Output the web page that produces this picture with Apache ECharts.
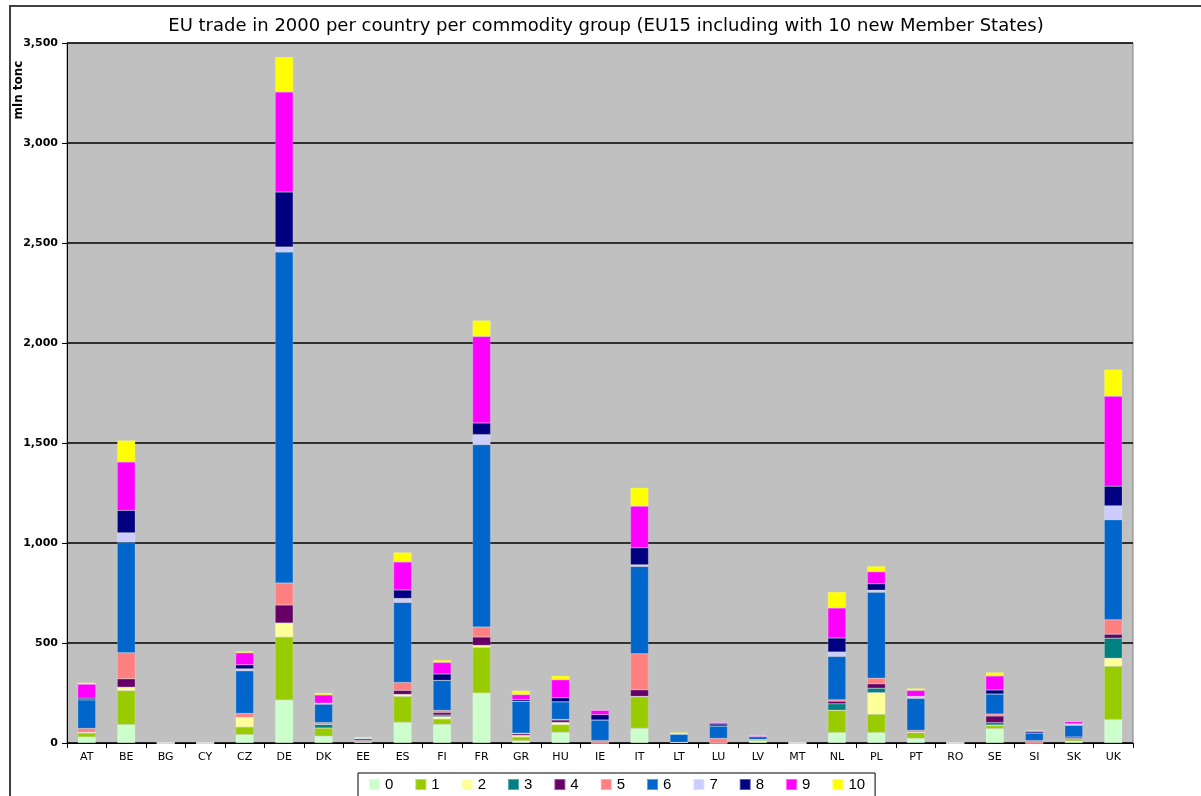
<!DOCTYPE html>
<html>
<head>
<meta charset="utf-8">
<title>EU trade in 2000</title>
<script src="https://cdn.jsdelivr.net/npm/echarts@6/dist/echarts.min.js"></script>
<style>
  html, body { margin: 0; padding: 0; background: #ffffff; }
  #chart { width: 1201px; height: 796px; }
</style>
</head>
<body>
<div id="chart"></div>
<script>
// Countries along the x axis
const countries = ['AT','BE','BG','CY','CZ','DE','DK','EE','ES','FI','FR','GR','HU','IE','IT','LT','LU','LV','MT','NL','PL','PT','RO','SE','SI','SK','UK'];

// Trade volume (mln tonnes) per commodity group, one value per country
//                 AT   BE  BG CY  CZ    DE  DK EE   ES   FI   FR   GR  HU   IE   IT LT  LU  LV MT   NL   PL   PT RO  SE  SI  SK   UK
const group0  = [ 30,  92, 0, 0, 42,  215, 34, 3, 103,  93, 250,  12, 53,   0,  73, 3,  0, 12, 0,  52,  52,  23, 0, 72,  0, 10, 117];
const group1  = [ 20, 170, 0, 0, 38,  315, 41, 2, 130,  27, 228,  18, 38,   0, 158, 0,  0,  5, 0, 112,  92,  30, 0, 15,  0, 12, 267];
const group2  = [  3,  17, 0, 0, 48,   70,  0, 0,  10,  12,  10,   8, 12,   0,   2, 0,  0,  0, 0,   0, 108,   0, 0,  3,  0,  0,  40];
const group3  = [  0,   0, 0, 0,  0,    0, 18, 0,   0,   8,   0,   0,  0,   0,   0, 0,  0,  0, 0,  32,  22,   0, 0, 12,  0,  0, 100];
const group4  = [  0,  42, 0, 0,  0,   90,  0, 0,  20,  13,  42,   8, 12,   0,  33, 0,  0,  0, 0,  13,  22,   0, 0, 33,  0,  8,  20];
const group5  = [ 20, 130, 0, 0, 20,  110,  9, 8,  40,  10,  50,   3,  3,  12, 180, 0, 23,  0, 0,   7,  28,  10, 0, 10, 12,  0,  72];
const group6  = [143, 553, 0, 0,213, 1655, 92,10, 400, 150, 912, 160, 88, 103, 437,42, 62, 15, 0, 217, 430, 160, 0,100, 38, 58, 500];
const group7  = [  0,  47, 0, 0, 10,   25,  5, 0,  20,   0,  50,   0,  0,   0,   8, 0,  0,  0, 0,  22,  10,  10, 0,  0,  0,  8,  70];
const group8  = [  8, 112, 0, 0, 20,  275,  0, 0,  42,  32,  58,   8, 20,  27,  85, 0, 10,  0, 0,  70,  32,   0, 0, 20,  8,  0,  98];
const group9  = [ 70, 242, 0, 0, 60,  500, 41, 2, 140,  58, 433,  25, 90,  22, 208, 0,  8,  5, 0, 150,  60,  30, 0, 70,  3, 12, 450];
const group10 = [  8, 108, 0, 0,  8,  175, 11, 5,  48,  12,  80,  20, 20,   0,  92, 8,  0,  3, 0,  80,  28,  10, 0, 18,  0,  0, 133];

const groupNames = ['0','1','2','3','4','5','6','7','8','9','10'];
const groupValues = [group0, group1, group2, group3, group4, group5, group6, group7, group8, group9, group10];
const groupColors = ['#CCFFCC','#99CC00','#FFFF99','#008080','#660066','#FF8080','#0066CC','#CCCCFF','#000080','#FF00FF','#FFFF00'];

// Value axis ticks
const yMin = 0, yMax = 3500, yStep = 500;

const font = 'Liberation Sans, Arial, sans-serif';
const wideFont = 'DejaVu Sans, Verdana, sans-serif';

const chart = echarts.init(document.getElementById('chart'), null, { renderer: 'canvas' });

const series = groupNames.map((name, i) => ({
  name: name,
  type: 'bar',
  stack: 'total',
  barWidth: 18,
  data: groupValues[i],
  itemStyle: { color: groupColors[i], borderColor: 'rgba(255,255,255,0.35)', borderWidth: 0.5 },
  emphasis: { disabled: true },
  animation: false
}));

chart.setOption({
  animation: false,
  title: {
    text: 'EU trade in 2000 per country per commodity group (EU15 including with 10 new Member States)',
    left: 601,
    textAlign: 'center',
    top: 12,
    textStyle: { fontFamily: wideFont, fontSize: 18, fontWeight: 'normal', color: '#000' }
  },
  legend: {
    data: groupNames,
    left: 358,
    top: 773,
    itemWidth: 11,
    itemHeight: 11,
    itemGap: 21,
    padding: [4, 10, 6, 10],
    icon: 'rect',
    borderColor: '#000',
    borderWidth: 1,
    textStyle: { fontFamily: font, fontSize: 15, color: '#000' }
  },
  grid: {
    left: 67,
    right: 68,
    top: 43,
    bottom: 53,
    show: true,
    backgroundColor: '#C0C0C0',
    borderColor: '#808080',
    borderWidth: 1
  },
  xAxis: {
    type: 'category',
    data: countries,
    axisLine: { lineStyle: { color: '#000', width: 1 } },
    axisTick: { show: true, length: 5, lineStyle: { color: '#000' } },
    axisLabel: { fontFamily: wideFont, fontSize: 11, color: '#000', margin: 9, interval: 0 }
  },
  yAxis: {
    type: 'value',
    min: yMin,
    max: yMax,
    interval: yStep,
    axisLine: { show: true, lineStyle: { color: '#000', width: 1 } },
    axisTick: { show: true, length: 5, lineStyle: { color: '#000' } },
    axisLabel: {
      fontFamily: wideFont,
      fontSize: 11,
      fontWeight: 'bold',
      color: '#000',
      margin: 9,
      formatter: v => v.toLocaleString('en-US')
    },
    splitLine: { show: true, lineStyle: { color: '#000', width: 1.5 } }
  },
  graphic: [
    {
      type: 'rect',
      z: -1,
      shape: { x: 10, y: 6, width: 1400, height: 1000 },
      style: { fill: 'none', stroke: '#404040', lineWidth: 2 },
      silent: true
    },
    {
      type: 'text',
      x: 19,
      y: 90,
      rotation: Math.PI / 2,
      style: {
        text: 'mln tonc',
        fontFamily: wideFont,
        fontSize: 12,
        fontWeight: 'bold',
        fill: '#000',
        align: 'center',
        verticalAlign: 'middle'
      },
      silent: true
    }
  ],
  series: series
});
</script>
</body>
</html>
